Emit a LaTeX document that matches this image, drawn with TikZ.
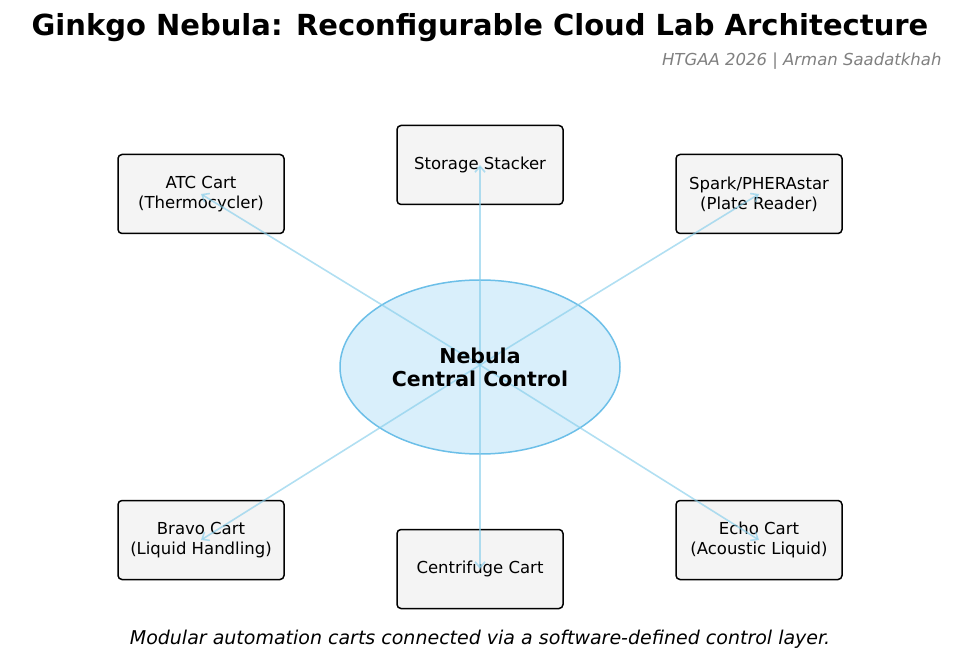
\documentclass[tikz,border=0pt]{standalone}
\usepackage{fontspec}
\setmainfont{DejaVu Sans}
\usetikzlibrary{shapes.geometric,arrows.meta}
\definecolor{boxfill}{HTML}{F4F4F4}
\definecolor{ellfill}{HTML}{D9EFFB}
\definecolor{elldraw}{HTML}{6CBFE8}
\definecolor{arr}{HTML}{87CEEB}
\begin{document}
\begin{tikzpicture}[x=1pt,y=-1pt,
  cart/.style={draw=black,line width=1.5pt,fill=boxfill,rounded corners=4pt,minimum width=166pt,minimum height=79pt,align=center,font=\fontsize{16.5}{20}\selectfont},
  link/.style={draw=arr,opacity=0.65,line width=1.6pt,-{Straight Barb[length=6pt,width=10pt]}}]
\useasboundingbox (0,0) rectangle (959,671);
\node[font=\bfseries\fontsize{29}{34}\selectfont] (title) at (480,28) {Ginkgo Nebula: Reconfigurable Cloud Lab Architecture};
\node[anchor=east,text=gray,font=\itshape\fontsize{16.5}{19}\selectfont] (sub) at (945,61) {HTGAA 2026 | Arman Saadatkhah};
\node[ellipse,draw=elldraw,line width=1.5pt,fill=ellfill,minimum width=280pt,minimum height=174pt] (c) at (480,367) {};
\node[cart] (atc) at (201,194) {ATC Cart\\(Thermocycler)};
\node[cart] (sto) at (480,165) {Storage Stacker};
\node[cart] (spk) at (759,194) {Spark/PHERAstar\\(Plate Reader)};
\node[cart] (brv) at (201,540) {Bravo Cart\\(Liquid Handling)};
\node[cart] (cen) at (480,569) {Centrifuge Cart};
\node[cart] (ech) at (759,540) {Echo Cart\\(Acoustic Liquid)};
\coordinate (o) at (480,365);
\foreach \t in {atc,sto,spk,brv,cen,ech} \draw[link] (o) -- (\t.center);
\node[align=center,font=\bfseries\fontsize{20.5}{23}\selectfont] (ct) at (480,367) {Nebula\\Central Control};
\node[font=\itshape\fontsize{19}{22}\selectfont] (cap) at (480,639) {Modular automation carts connected via a software-defined control layer.};
\end{tikzpicture}
\end{document}
